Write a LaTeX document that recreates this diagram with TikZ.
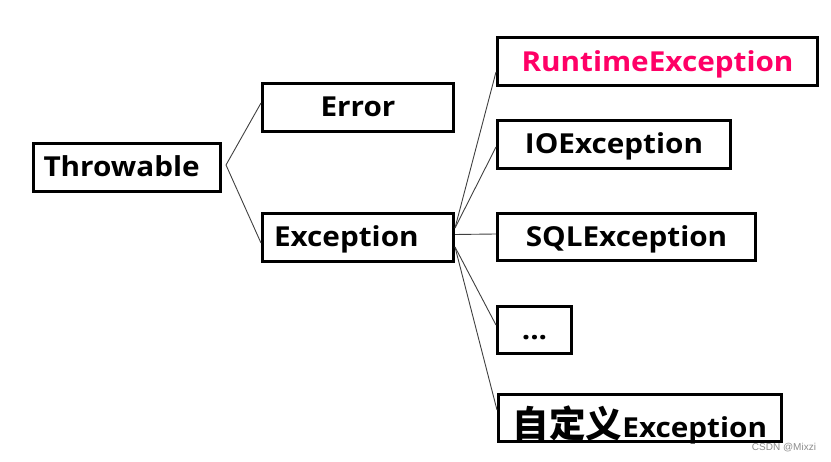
\documentclass[tikz,border=0pt]{standalone}
\usepackage{fontspec}
\setmainfont{Open Sans}[FakeStretch=1.08]
\newfontfamily\cjkfont{Noto Sans CJK SC}
\newfontfamily\markfont{Liberation Sans}
\usepackage{tikz}
\usetikzlibrary{positioning}
\definecolor{runtimered}{RGB}{255,0,102}

\begin{document}
\begin{tikzpicture}[
    x=1pt,
    y=-1pt,
    box/.style={
        rectangle,
        draw=black,
        line width=3pt,
        minimum height=48pt,
        inner sep=0pt,
        text height=19pt,
        text depth=0pt,
        font=\fontsize{27.5}{30}\selectfont\bfseries
    },
    leftbox/.style={
        box,
        align=left,
        inner xsep=10pt
    },
    branch/.style={
        draw=black!75,
        line width=0.9pt
    }
]

\useasboundingbox (0,0) rectangle (831,462);

% Radacina
\node[leftbox, text width=167pt] (throwable) at (127,167.5) {Throwable};

% Nivelul doi
\node[box, minimum width=191pt] (error) at (358,107.5) {Error};
\node[leftbox, inner xsep=11.5pt, text width=168pt] (exception) at (358,237.5) {Exception};

% Subclasele lui Exception
\node[box, minimum width=320pt, text=runtimered] (runtime) at (657.5,62) {RuntimeException};
\node[box, minimum width=233pt] (ioexc) at (614,144.5) {IOException};
\node[box, minimum width=258pt, minimum height=47pt] (sqlexc) at (626.5,237) {SQLException};
\node[box, minimum width=74pt, minimum height=47pt] (dots) at (534.5,330) {...};
\node[box, minimum width=283pt, minimum height=47pt, text height=40pt] (custom) at (640,418)
    {{\cjkfont\fontsize{36.5}{36.5}\selectfont 自定义}Exception};

% Watermark
\node[text=black!45, font=\markfont\fontsize{10}{10}\selectfont, inner sep=0pt] (mark) at (784,448) {CSDN @Mixzi};

% Liniile din Throwable
\coordinate (tjoin) at ([xshift=4pt, yshift=2.5pt]throwable.east);
\draw[branch] (tjoin) -- ([yshift=4.5pt]error.west);
\draw[branch] (tjoin) -- ([yshift=-5.5pt]exception.west);

% Liniile din Exception
\coordinate (eup) at ([yshift=9.5pt]exception.east);
\coordinate (emid) at ([yshift=3pt]exception.east);
\coordinate (edown) at ([yshift=-9.5pt]exception.east);
\draw[branch] (eup) -- ([yshift=-10pt]runtime.west);
\draw[branch] (eup) -- ([yshift=-2.5pt]ioexc.west);
\draw[branch] (emid) -- ([yshift=3pt]sqlexc.west);
\draw[branch] (edown) -- ([yshift=5pt]dots.west);
\draw[branch] (edown) -- ([yshift=8pt]custom.west);

\end{tikzpicture}
\end{document}
